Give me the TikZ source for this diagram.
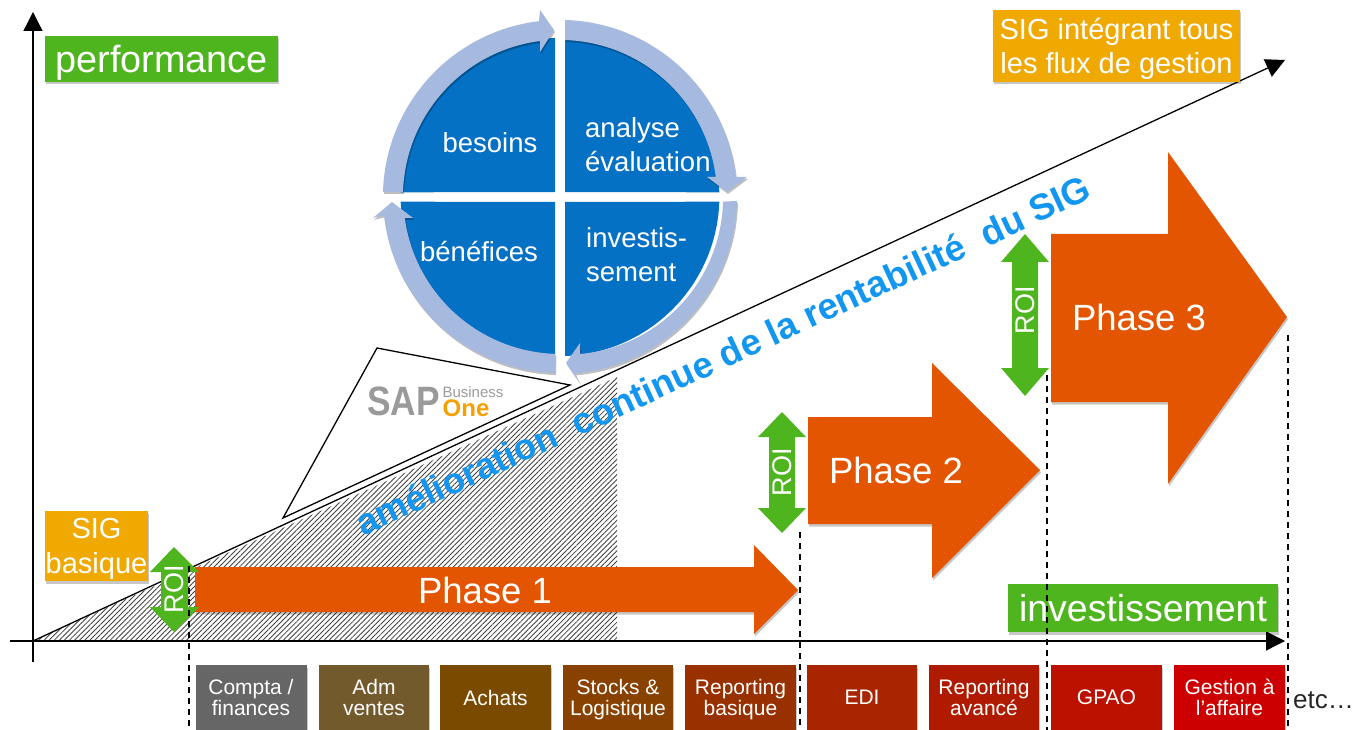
\documentclass[tikz,border=0pt]{standalone}
\usepackage{fontspec}
\setmainfont{Liberation Sans}
\usetikzlibrary{arrows.meta,patterns.meta,shadows}
\definecolor{cgreen}{HTML}{4FB51F}
\definecolor{camber}{HTML}{EFA900}
\definecolor{corange}{HTML}{E35500}
\definecolor{cblue}{HTML}{0571C5}
\definecolor{cring}{HTML}{A6B9DF}
\definecolor{ctitle}{HTML}{1296F0}
\definecolor{sapgray}{HTML}{9A9A9A}
\definecolor{saporange}{HTML}{F5A000}
\definecolor{fa}{RGB}{102,102,102}
\definecolor{fb}{RGB}{115,90,45}
\definecolor{fc}{RGB}{122,74,0}
\definecolor{fd}{RGB}{137,65,0}
\definecolor{fe}{RGB}{152,48,0}
\definecolor{ff}{RGB}{168,37,0}
\definecolor{fg}{RGB}{176,26,0}
\definecolor{fh}{RGB}{188,16,0}
\definecolor{fi}{RGB}{204,0,0}
\newcommand{\fz}[2]{\fontsize{#1}{#2}\selectfont}
\tikzset{
  softshadow/.style={drop shadow={shadow xshift=1pt,shadow yshift=-2.5pt,opacity=.22,fill=black}},
  tag/.style={inner sep=0pt,text=white,align=center,softshadow},
  ftag/.style={tag,fill=#1,minimum height=65pt,minimum width=111pt,text depth=0pt,font=\fz{21}{21}},
  axis/.style={line width=1.3pt,-{Triangle[length=19pt,width=19pt]}},
  guide/.style={dashed,line width=1.1pt,dash pattern=on 6pt off 5pt},
  phasearrow/.style={fill=corange,softshadow},
  roiarrow/.style={fill=cgreen},
  rolabel/.style={text=white,font=\fz{27}{27},rotate=90,inner sep=0pt},
  phaselabel/.style={text=white,font=\fz{36.5}{37},inner sep=0pt},
  ringarc/.style={fill=cring,drop shadow={shadow xshift=1pt,shadow yshift=-2pt,opacity=.25,fill=black}},
  cyclelabel/.style={text=white,font=\fz{27.5}{34},inner sep=0pt,align=left},
}
\begin{document}
\begin{tikzpicture}[x=1pt,y=-1pt]
\useasboundingbox (0,0) rectangle (1355,730);
% hatching
\fill[pattern={Lines[angle=45,distance=3.6pt,line width=.85pt]},pattern color=black!75] (33,641) -- (617,377) -- (617,641) -- cycle;
% axes and diagonal
\coordinate (o) at (33,641);
\coordinate (xs) at (10,641);
\coordinate (xe) at (1285,641);
\coordinate (ys) at (33,662);
\coordinate (ye) at (33,12);
\coordinate (de) at (1285,60);
\draw[axis] (xs) -- (xe);
\draw[axis] (ys) -- (ye);
\draw[axis] (o) -- (de);
% SAP triangle
\coordinate (t1) at (283,518);
\coordinate (t2) at (377,348);
\coordinate (t3) at (570,385);
\draw[line width=1.3pt,line join=miter] (t1) -- (t2) -- (t3) -- cycle;
\node[inner sep=0pt,text=sapgray,font=\bfseries\fz{41}{41}] (sap) at (403.5,401) {\scalebox{0.86}[1]{SAP}};
\node[inner sep=0pt,text=sapgray,font=\fz{15}{15}] (sapb) at (473,392) {Business};
\node[inner sep=0pt,text=saporange,font=\bfseries\fz{24}{24}] (sapo) at (466,408) {One};
% cycle, blue quadrants
\fill[cblue] (565,192) -- (565,38) arc[start angle=-88,end angle=-2,radius=160] -- cycle;
\fill[cblue] (555,192) -- (555,38) arc[start angle=-92,end angle=-178,radius=160] -- cycle;
\fill[cblue] (555,202) -- (555,356) arc[start angle=92,end angle=178,radius=160] -- cycle;
\fill[cblue] (565,202) -- (565,356) arc[start angle=88,end angle=2,radius=160] -- cycle;
% cycle, ring arrows
\path[ringarc] (565,20) arc[start angle=-88.4,end angle=-6.5,radius=177] -- (747,177) -- (727,192) -- (707,177) -- (715.8,177) arc[start angle=-7.3,end angle=-88.2,radius=157] -- cycle;
\path[ringarc] (566,363) -- (580,343) -- (580,354) arc[start angle=84.9,end angle=1.46,radius=157] -- (737,201) arc[start angle=1.3,end angle=85.2,radius=177] -- (580,383) -- cycle;
\path[ringarc] (555,373) arc[start angle=91.6,end angle=173.8,radius=177] -- (373,218) -- (392,202) -- (413,218) -- (404.8,218) arc[start angle=172.3,end angle=91.8,radius=157] -- cycle;
\path[ringarc] (383,192) arc[start angle=-178.4,end angle=-96.8,radius=177] -- (540,10) -- (554,30) -- (540,52) -- (540,41) arc[start angle=-97.3,end angle=-178.2,radius=157] -- cycle;
\node[cyclelabel] (besoins) at (490,143) {besoins};
\node[cyclelabel,anchor=west] (analyse) at (585,144.5) {analyse\\évaluation};
\node[cyclelabel] (benefices) at (479,252) {bénéfices};
\node[cyclelabel,anchor=west] (invest) at (586,255) {investis-\\sement};
% diagonal title
\node[inner sep=0pt,text=ctitle,rotate=24.9,font=\bfseries\fz{36.5}{36.5}] (title) at (723,355) {amélioration\ \ continue de la rentabilité\ \ du SIG};
% phases
\path[phasearrow] (195,567) -- (754,567) -- (754,545) -- (798,590) -- (754,634) -- (754,612) -- (195,612) -- cycle;
\path[phasearrow] (808,417) -- (932,417) -- (932,363) -- (1040,470) -- (932,578) -- (932,524) -- (808,524) -- cycle;
\path[phasearrow] (1051,234) -- (1168,234) -- (1168,152) -- (1287,317) -- (1168,484) -- (1168,402) -- (1051,402) -- cycle;
\node[phaselabel] (p1) at (485,590) {Phase 1};
\node[phaselabel] (p2) at (896,470) {Phase 2};
\node[phaselabel] (p3) at (1139,317) {Phase 3};
% ROI arrows
\path[roiarrow] (174,547) -- (199,572) -- (188,572) -- (188,607) -- (199,607) -- (174,632) -- (150,607) -- (161,607) -- (161,572) -- (150,572) -- cycle;
\path[roiarrow] (782,412) -- (806,437) -- (795,437) -- (795,508) -- (806,508) -- (782,533) -- (758,508) -- (769,508) -- (769,437) -- (758,437) -- cycle;
\path[roiarrow] (1025,234) -- (1049,262) -- (1038,262) -- (1038,368) -- (1049,368) -- (1025,396) -- (1001,368) -- (1012,368) -- (1012,262) -- (1001,262) -- cycle;
% labels
\node[tag,fill=cgreen,minimum width=233pt,minimum height=46pt,text depth=0pt,font=\fz{37.8}{38}] (perf) at (161.5,59) {performance};
\node[tag,fill=camber,minimum width=247pt,minimum height=72pt,text depth=0pt,font=\fz{29}{34}] (sigall) at (1116.5,46) {SIG intégrant tous\\les flux de gestion};
\node[tag,fill=camber,minimum width=103pt,minimum height=70pt,text depth=0pt,font=\fz{29}{35}] (sigb) at (96.5,546) {SIG\\basique};
\node[tag,fill=cgreen,minimum width=270pt,minimum height=48pt,font=\fz{37.5}{38}] (inv) at (1143,608) {investissement};
\node[rolabel] (r1) at (174,589) {ROI};
\node[rolabel] (r2) at (782,472) {ROI};
\node[rolabel] (r3) at (1025,310) {ROI};
% bottom boxes
\node[ftag=fa] (b1) at (251,697.5) {Compta /\\finances};
\node[ftag=fb,minimum width=110pt] (b2) at (374,697.5) {Adm\\ventes};
\node[ftag=fc] (b3) at (495.5,697.5) {Achats};
\node[ftag=fd,minimum width=110pt] (b4) at (618,697.5) {Stocks \&\\Logistique};
\node[ftag=fe] (b5) at (740.5,697.5) {Reporting\\basique};
\node[ftag=ff,minimum width=110pt] (b6) at (862,697.5) {EDI};
\node[ftag=fg,minimum width=110pt] (b7) at (984,697.5) {Reporting\\avancé};
\node[ftag=fh] (b8) at (1106.5,697.5) {GPAO};
\node[ftag=fi] (b9) at (1229.5,697.5) {Gestion à\\l'affaire};
% guides
\coordinate (g1a) at (189,566); \coordinate (g1b) at (189,730);
\coordinate (g2a) at (800,532); \coordinate (g2b) at (800,730);
\coordinate (g3a) at (1047,375); \coordinate (g3b) at (1047,730);
\coordinate (g4a) at (1288,335); \coordinate (g4b) at (1288,730);
\draw[guide] (g1a) -- (g1b);
\draw[guide] (g2a) -- (g2b);
\draw[guide] (g3a) -- (g3b);
\draw[guide] (g4a) -- (g4b);
\node[inner sep=0pt,anchor=west,font=\fz{26}{26},text=black!85] (etc) at (1293,700) {etc…};
\end{tikzpicture}
\end{document}
